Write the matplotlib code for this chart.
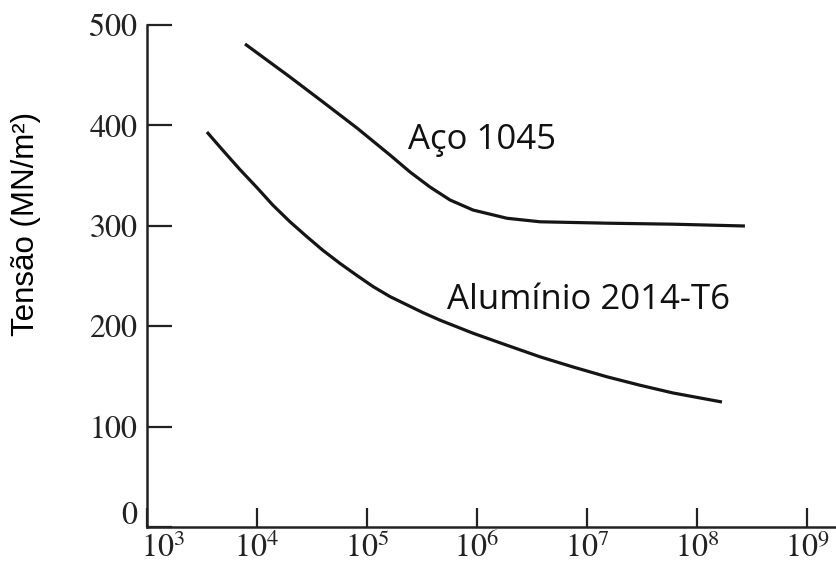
import matplotlib
matplotlib.use("Agg")
import matplotlib.pyplot as plt
import matplotlib.transforms as mtransforms
import numpy as np

# Data (log10 of cycles, stress MN/m^2)
aco_log_n = [3.891, 4.300, 4.600, 4.909, 5.209, 5.391, 5.573, 5.755, 5.964,
             6.273, 6.573, 7.182, 7.782, 8.436]
aco_stress = [481.1, 448.2, 423.3, 397.4, 370.5, 353.6, 338.6, 325.7, 315.7,
              307.5, 304.0, 302.6, 301.6, 299.8]
alu_log_n = [3.545, 3.691, 3.845, 4.000, 4.145, 4.300, 4.455, 4.600, 4.755,
             4.909, 5.055, 5.209, 5.509, 5.664, 5.964, 6.273, 6.573, 6.873,
             7.182, 7.482, 7.782, 8.227]
alu_stress = [393.4, 375.0, 356.0, 338.0, 320.5, 304.0, 289.0, 275.5, 262.5,
              250.5, 239.5, 229.5, 213.5, 206.0, 193.0, 181.0, 169.5, 159.4,
              149.6, 141.2, 133.5, 124.5]

y_ticks = [0, 100, 200, 300, 400, 500]
x_exponents = [3, 4, 5, 6, 7, 8, 9]
label_aco = "Aço 1045"
label_alu = "Alumínio 2014-T6"
y_label = "Tensão (MN/m²)"

plt.rcParams["mathtext.fontset"] = "stix"

fig = plt.figure(figsize=(8.37, 5.72), dpi=100)
ax = fig.add_axes([147 / 837, 45 / 572, 690 / 837, 502 / 572])

line_kw = dict(color="#151515", lw=2.3, solid_capstyle="butt", solid_joinstyle="round")
ax.plot(10 ** np.array(aco_log_n), aco_stress, **line_kw)
ax.plot(10 ** np.array(alu_log_n), alu_stress, **line_kw)

ax.set_xscale("log")
ax.set_xlim(1e3, 10 ** 9.273)
ax.set_ylim(0, 500)

for s in ["top", "right"]:
    ax.spines[s].set_visible(False)
for s in ["left", "bottom"]:
    ax.spines[s].set_linewidth(1.8)
    ax.spines[s].set_color("#222222")

ax.set_yticks(y_ticks)
ax.set_yticklabels([str(v) for v in y_ticks], family="STIXGeneral", fontsize=23)
ax.set_xticks([10.0 ** e for e in x_exponents])
ax.set_xticklabels([rf"$10^{{{e}}}$" for e in x_exponents], fontsize=23)
ax.minorticks_off()
ax.tick_params(axis="y", direction="in", length=18, width=1.6, pad=7, colors="#222222")
ax.tick_params(axis="x", direction="in", length=14, width=1.6, pad=4, colors="#222222")

# shift the "0" label up and the 10^3 label right as in the reference
lbls = ax.get_yticklabels()
lbls[0].set_transform(lbls[0].get_transform() + mtransforms.ScaledTranslation(0, 14 / 100, fig.dpi_scale_trans))
xl = ax.get_xticklabels()
xl[0].set_transform(xl[0].get_transform() + mtransforms.ScaledTranslation(16 / 100, 0, fig.dpi_scale_trans))

ax.set_ylabel(y_label, family="Liberation Sans", fontsize=22.5)
ax.yaxis.set_label_coords(-0.153, 0.604)

ax.text(10 ** 5.373, 385, label_aco, family="Open Sans", fontsize=25, ha="left", va="center", color="#111111")
ax.text(10 ** 5.727, 226, label_alu, family="Open Sans", fontsize=25, ha="left", va="center", color="#111111")

fig.savefig("out.png", dpi=100)
